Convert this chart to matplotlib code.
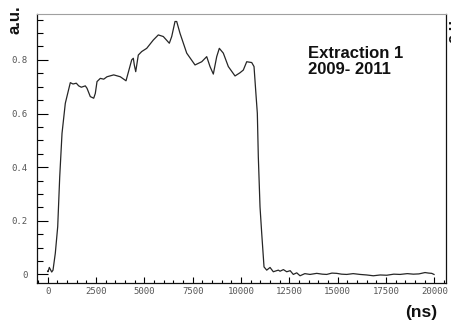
import matplotlib.pyplot as plt
from matplotlib.ticker import MultipleLocator

# tempo (ns) e sinal normalizado (a.u.)
tempo = [0, 16, 83, 207, 274, 393, 517, 621, 740, 910, 1034, 1169, 1309, 1479,
         1603, 1738, 1945, 2033, 2203, 2379, 2462, 2550, 2721, 2897, 3067,
         3414, 3755, 4050, 4345, 4428, 4479, 4552, 4686, 4862, 5121, 5462,
         5721, 5979, 6290, 6414, 6584, 6672, 6843, 7190, 7619, 7966, 8224,
         8395, 8566, 8741, 8876, 9083, 9342, 9688, 9947, 10117, 10293, 10552,
         10671, 10774, 10842, 10893, 10981, 11069, 11188, 11328, 11499, 11669,
         11928, 12016, 12190, 12362, 12540, 12703, 12880, 13050, 13300, 13567,
         13914, 14200, 14431, 14700, 14948, 15200, 15466, 15800, 16154, 16500,
         16842, 17200, 17535, 17900, 18223, 18600, 18911, 19200, 19516, 19700,
         19862, 19981]
sinal = [0.012, 0.010, 0.026, 0.009, 0.016, 0.079, 0.178, 0.364, 0.526, 0.638,
         0.675, 0.715, 0.710, 0.713, 0.703, 0.698, 0.703, 0.694, 0.663, 0.657,
         0.675, 0.719, 0.731, 0.728, 0.737, 0.744, 0.737, 0.722, 0.800, 0.806,
         0.781, 0.756, 0.818, 0.831, 0.843, 0.874, 0.893, 0.887, 0.862, 0.887,
         0.943, 0.943, 0.899, 0.825, 0.781, 0.793, 0.812, 0.775, 0.747, 0.812,
         0.843, 0.825, 0.775, 0.740, 0.752, 0.762, 0.793, 0.790, 0.775, 0.669,
         0.601, 0.439, 0.252, 0.153, 0.028, 0.016, 0.026, 0.010, 0.016, 0.012,
         0.018, 0.010, 0.014, 0.000, 0.006, -0.005, 0.003, 0.000, 0.004, 0.001,
         0.000, 0.005, 0.004, 0.001, 0.000, 0.003, 0.000, -0.002, -0.005,
         -0.002, -0.003, 0.001, 0.000, 0.003, 0.001, 0.002, 0.007, 0.005, 0.004,
         0.000]

xticks = [0, 2500, 5000, 7500, 10000, 12500, 15000, 17500, 20000]
yticks = [0, 0.2, 0.4, 0.6, 0.8]

fig = plt.figure(figsize=(4.52, 3.24), dpi=100)
ax = fig.add_axes([0.0819, 0.1265, 0.9048, 0.8303])

ax.plot(tempo, sinal, color='#262626', linewidth=0.9)

ax.set_xlim(-553, 20600)
ax.set_ylim(-0.032, 0.971)

ax.set_xticks(xticks)
ax.set_xticklabels([str(v) for v in xticks])
ax.set_yticks(yticks)
ax.set_yticklabels(['0', '0.2', '0.4', '0.6', '0.8'])
ax.xaxis.set_minor_locator(MultipleLocator(500))
ax.yaxis.set_minor_locator(MultipleLocator(0.05))

ax.tick_params(axis='x', which='major', direction='in', length=4, width=0.8,
               pad=3, labelsize=6.5, labelcolor='#555555')
ax.tick_params(axis='x', which='minor', direction='in', length=2.5, width=0.8)
ax.tick_params(axis='y', which='major', direction='in', length=8, width=0.8,
               pad=7, labelsize=6.5, labelcolor='#555555')
ax.tick_params(axis='y', which='minor', direction='in', length=4.5, width=0.8)
for lab in ax.get_xticklabels() + ax.get_yticklabels():
    lab.set_family('DejaVu Sans Mono')

ax.spines['top'].set_color('#a0a0a0')
for lado in ['left', 'right', 'bottom']:
    ax.spines[lado].set_color('#111111')
    ax.spines[lado].set_linewidth(0.9)

ax.text(0.663, 0.88, 'Extraction 1\n2009- 2011', transform=ax.transAxes,
        fontsize=12, fontweight='bold', family='Liberation Sans',
        va='top', ha='left', linespacing=1.05, color='#111111')

fig.text(0.033, 0.94, 'a.u.', rotation=90, fontsize=12, fontweight='bold',
         family='Liberation Sans', ha='center', va='center', color='#111111')
# rótulo do painel vizinho, cortado na borda direita
fig.text(0.988, 0.91, 'a.u.', rotation=90, fontsize=12, fontweight='bold',
         family='Liberation Sans', ha='left', va='center', color='#111111')
fig.text(0.932, 0.037, '(ns)', fontsize=12.5, fontweight='bold',
         family='Liberation Sans', ha='center', va='center', color='#111111')

fig.savefig('out.png', dpi=100)
